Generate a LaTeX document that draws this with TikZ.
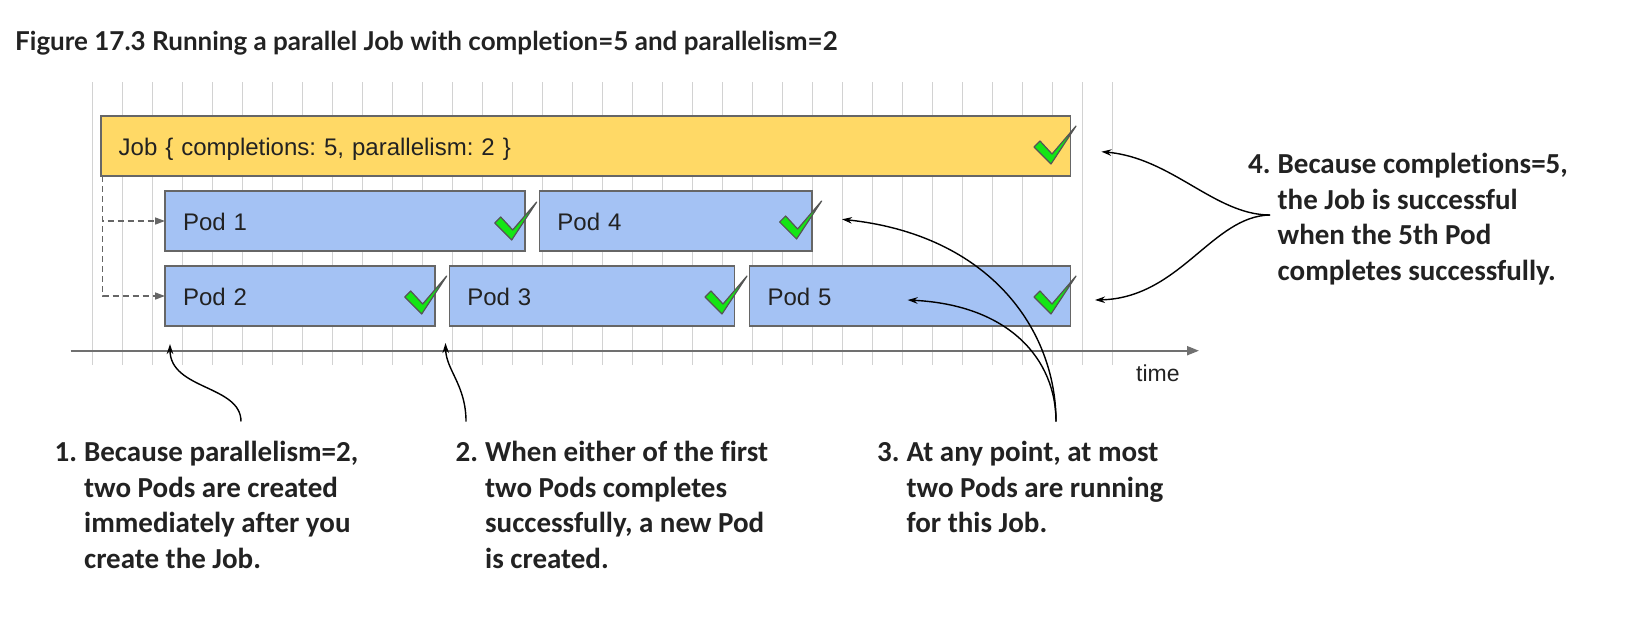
\documentclass[tikz,border=0pt]{standalone}
\usepackage{fontspec}
\setmainfont{Liberation Sans}
\newfontfamily\annfont[Ligatures=NoCommon]{Carlito}
\newfontfamily\titlefont[Ligatures=NoCommon]{Lato}
\usetikzlibrary{arrows.meta}
\definecolor{jobfill}{HTML}{FFD966}
\definecolor{podfill}{HTML}{A4C2F4}
\definecolor{boxline}{HTML}{666666}
\definecolor{gridline}{HTML}{D2D2D2}
\definecolor{axisline}{HTML}{707070}
\definecolor{checkgreen}{RGB}{20,230,20}
\definecolor{checkline}{HTML}{555555}
\definecolor{textdark}{HTML}{222222}
\frenchspacing
\begin{document}
\begin{tikzpicture}[x=1pt,y=-1pt,
  boxstyle/.style={draw=boxline, line width=1.6pt, anchor=north west, inner xsep=18pt, inner ysep=0pt,
    minimum height=60pt, text height=19.4pt, text depth=0pt, align=left, outer sep=0pt,
    font=\fontsize{24}{28}\selectfont, text=textdark},
  jobbox/.style={boxstyle, fill=jobfill},
  podbox/.style={boxstyle, fill=podfill},
  gridstyle/.style={draw=gridline, line width=1.4pt},
  axisstyle/.style={draw=axisline, line width=2pt, -{Triangle[length=12pt,width=9pt]}},
  dashconn/.style={draw=boxline, line width=1.5pt, dash pattern=on 6pt off 4pt, -{Triangle[length=10pt,width=7pt,fill=boxline]}},
  curveconn/.style={draw=black, line width=1.4pt, -{Stealth[length=10pt,width=6.5pt]}},
  anntext/.style={anchor=base west, inner sep=0pt, font=\annfont\bfseries\fontsize{29}{35.7}\selectfont, text=textdark},
  okmark/.pic={\filldraw[fill=checkgreen, draw=checkline, line width=1.2pt, line join=round]
    (-17,-17) -- (0,0) -- (25,-38) -- (1,-10) -- (-11,-23) -- cycle;}
]
\useasboundingbox (0,0) rectangle (1645,635);
\fill[white] (0,0) rectangle (1645,635);

% title
\node[anchor=base west, inner sep=0pt, font=\titlefont\bfseries\fontsize{26}{30}\selectfont, text=textdark] (title) at (15,50.7)
  {Figure 17.3 Running a parallel Job with completion=5 and parallelism=2};

% grid
\foreach \k in {0,...,34} {
  \draw[gridstyle] (92.3+30*\k,82) -- (92.3+30*\k,365);
}

% time axis
\coordinate (axstart) at (70.6,350.7);
\coordinate (axend) at (1199,350.7);
\draw[axisstyle] (axstart) -- (axend);
\node[anchor=base west, inner sep=0pt, font=\fontsize{23}{27}\selectfont, text=textdark] (time) at (1136,381.7) {time};

% boxes
\node[jobbox, text width=933.8pt] (job) at (100.7,116) {Job \{ completions: 5, parallelism: 2 \}};
\node[podbox, text width=324pt] (pod1) at (165,191) {Pod 1};
\node[podbox, text width=236.6pt] (pod4) at (539.4,191) {Pod 4};
\node[podbox, text width=234pt] (pod2) at (165,266) {Pod 2};
\node[podbox, text width=249.3pt] (pod3) at (449.3,266) {Pod 3};
\node[podbox, text width=285pt] (pod5) at (749.5,266) {Pod 5};

% check marks
\pic at (1051,164) {okmark};
\pic at (511.7,240) {okmark};
\pic at (796.6,239) {okmark};
\pic at (421.7,314) {okmark};
\pic at (722,314) {okmark};
\pic at (1051,314) {okmark};

% dashed creation connectors
\draw[dashconn] ([xshift=2pt]job.south west) |- (pod1.west);
\draw[dashconn] ([xshift=2pt]job.south west) |- (pod2.west);

% annotations
\node[anntext] (ann1) at (54.5,461.5) {\begin{tabular}[t]{@{}l@{\hspace{7pt}}l@{}}1.&Because parallelism=2,\\&two Pods are created\\&immediately after you\\&create the Job.\end{tabular}};
\node[anntext] (ann2) at (455.5,461.5) {\begin{tabular}[t]{@{}l@{\hspace{7pt}}l@{}}2.&When either of the first\\&two Pods completes\\&successfully, a new Pod\\&is created.\end{tabular}};
\node[anntext] (ann3) at (877,461.5) {\begin{tabular}[t]{@{}l@{\hspace{7pt}}l@{}}3.&At any point, at most\\&two Pods are running\\&for this Job.\end{tabular}};
\node[anntext] (ann4) at (1248,173.5) {\begin{tabular}[t]{@{}l@{\hspace{7pt}}l@{}}4.&Because completions=5,\\&the Job is successful\\&when the 5th Pod\\&completes successfully.\end{tabular}};

% annotation connector ends
\coordinate (f1) at (241,421.5);
\coordinate (t1) at (170,344);
\coordinate (f2) at (466,421.5);
\coordinate (t2) at (445.5,343);
\coordinate (f3) at (1056,421.5);
\coordinate (t3a) at (842,219.3);
\coordinate (t3b) at (907.6,300);
\coordinate (f4) at (1270,215);
\coordinate (t4a) at (1101.4,151.7);
\coordinate (t4b) at (1095,300);

\draw[curveconn] (f1) .. controls (241,385) and (170,390) .. (t1);
\draw[curveconn] (f2) .. controls (466,385) and (446,370) .. (t2);
\draw[curveconn] (f3) .. controls (1056,330) and (990,235) .. (t3a);
\draw[curveconn] (f3) .. controls (1056,360) and (1010,305) .. (t3b);
\draw[curveconn] (f4) .. controls (1215,215) and (1172,158) .. (t4a);
\draw[curveconn] (f4) .. controls (1212,216) and (1180,298) .. (t4b);
\end{tikzpicture}
\end{document}
